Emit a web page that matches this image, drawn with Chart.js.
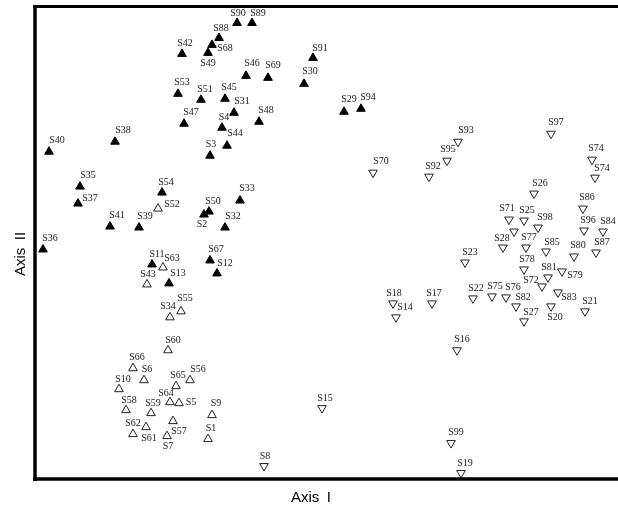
<!DOCTYPE html>
<html>
<head>
<meta charset="utf-8">
<script src="https://cdn.jsdelivr.net/npm/chart.js@4/dist/chart.umd.min.js"></script>
<style>
  html, body { margin:0; padding:0; background:#fff; }
  canvas { display:block; }
</style>
</head>
<body>
<canvas id="ord" width="618" height="508"></canvas>
<script>
// ordination scores (arbitrary units, no ticks shown)
const filledNames = ['S90','S89','S88','S68','S42','S49','S46','S69','S91','S30','S53','S51','S45','S31','S29','S94','S48','S47','S4','S38','S44','S40','S3','S35','S54','S33','S37','S50','S2','S41','S39','S32','S36','S67','S11','S12','S13'];
const filledX = [237,252,219,212,182,208,246,268,313,304,178,201,225,234,344,361,259,184,222,115,227,49,210,80,162,240,78,209,204,110,139,225,43,210,152,217,169];
const filledY = [22,22,37,44,53,52,75,77,57,83,93,99,98,112,111,108,121,123,127,141,145,151,155,186,192,200,203,211,214,226,227,227,249,260,264,273,283];

const openUpNames = ['S52','S63','S43','S55','S34','S60','S66','S6','S56','S65','S10','S64','S5','S58','S59','S9','S57','S61','S62','S7','S1'];
const openUpX = [158,163,147,181,170,168,133,144,190,176,119,170,179,126,151,212,173,146,133,167,208];
const openUpY = [208,267,284,311,317,350,368,380,380,386,389,402,403,410,413,415,421,427,434,436,439];

const openDownNames = ['S97','S93','S95','S74','S70','S92','S74','S26','S86','S71','S25','S98','S96','S84','','S28','S77','S85','S87','S80','S23','S78','S79','S81','S72','S83','S75','S76','S22','S17','S18','S82','S20','S21','S14','S27','S16','S15','S99','S8','S19'];
const openDownX = [551,458,447,592,373,429,595,534,583,509,524,538,584,603,514,503,526,546,596,574,465,524,562,548,542,558,492,506,473,432,393,516,551,585,396,524,457,322,451,264,461];
const openDownY = [133,141,160,159,172,176,177,193,208,219,220,227,230,231,231,247,247,251,252,256,262,269,271,277,286,292,296,297,298,303,303,306,306,311,317,321,350,408,443,466,473];

// label placement (pixel offset of label centre from the marker)
const filledLabelAt = [[1,-10],[6,-10],[2,-10],[13,3],[3,-11],[0,10],[6,-12],[5,-12],[7,-10],[6,-12],[4,-11],[4,-10],[4,-11],[8,-11],[5,-12],[7,-11],[7,-11],[7,-11],[2,-10],[8,-11],[8,-12],[8,-11],[1,-11],[8,-11],[4,-10],[7,-12],[12,-5],[4,-10],[-2,10],[7,-11],[6,-11],[8,-11],[7,-11],[6,-11],[5,-10],[8,-10],[9,-10]];
const openUpLabelAt = [[14,-4],[9,-9],[1,-10],[4,-13],[-2,-11],[5,-10],[4,-11],[3,-11],[8,-11],[2,-11],[4,-10],[-4,-9],[12,-1],[3,-10],[2,-10],[4,-12],[6,10],[3,11],[0,-11],[1,10],[3,-11]];
const openDownLabelAt = [[5,-11],[8,-11],[1,-11],[4,-11],[8,-11],[4,-10],[7,-9],[6,-10],[4,-11],[-2,-11],[3,-10],[7,-10],[4,-10],[5,-10],[0,0],[-1,-9],[3,-10],[6,-9],[6,-10],[4,-11],[5,-10],[3,-10],[13,4],[1,-10],[-11,-6],[11,5],[3,-10],[7,-10],[3,-10],[2,-10],[1,-10],[7,-9],[4,11],[5,-10],[9,-10],[7,-9],[5,-11],[3,-10],[5,-11],[1,-10],[4,-10]];

function toPoints(xs, ys){ return xs.map((x,i)=>({x, y: ys[i]})); }

const pointLabels = {
  id: 'pointLabels',
  afterDatasetsDraw(chart){
    const ctx = chart.ctx;
    ctx.save();
    ctx.font = '10px "Liberation Serif", "Times New Roman", serif';
    ctx.fillStyle = '#1a1a1a';
    ctx.textAlign = 'center';
    ctx.textBaseline = 'middle';
    chart.data.datasets.forEach((ds, di) => {
      const meta = chart.getDatasetMeta(di);
      meta.data.forEach((pt, i) => {
        const name = ds.names[i];
        if(!name) return;
        const off = ds.labelAt[i] || [5,-10];
        ctx.fillText(name, pt.x + off[0], pt.y + off[1]);
      });
    });
    ctx.restore();
  }
};

const frame = {
  id: 'frame',
  afterDraw(chart){
    const ctx = chart.ctx, a = chart.chartArea, W = chart.width;
    ctx.save();
    ctx.strokeStyle = '#000';
    ctx.lineCap = 'butt';
    ctx.lineWidth = 3;
    ctx.beginPath(); ctx.moveTo(a.left - 2, a.top + 0.5); ctx.lineTo(W, a.top + 0.5); ctx.stroke();
    ctx.lineWidth = 3.5;
    ctx.beginPath(); ctx.moveTo(a.left, a.top - 1); ctx.lineTo(a.left, a.bottom + 2); ctx.stroke();
    ctx.beginPath(); ctx.moveTo(a.left - 2, a.bottom); ctx.lineTo(W, a.bottom); ctx.stroke();
    // axis titles
    ctx.fillStyle = '#000';
    ctx.font = '15px "Liberation Sans", Arial, sans-serif';
    ctx.textAlign = 'center';
    ctx.textBaseline = 'alphabetic';
    ctx.fillText('Axis\u2002I', 311, 502);
    ctx.translate(25, 254);
    ctx.rotate(-Math.PI/2);
    ctx.fillText('Axis\u2002II', 0, 0);
    ctx.restore();
  }
};

const baseSet = { pointRadius: 5, pointHoverRadius: 5, borderWidth: 1, showLine: false, clip: false };

new Chart(document.getElementById('ord'), {
  type: 'scatter',
  data: {
    datasets: [
      { ...baseSet, label: 'group 1', names: filledNames, labelAt: filledLabelAt,
        data: toPoints(filledX, filledY), pointStyle: 'triangle',
        backgroundColor: '#000', borderColor: '#000' },
      { ...baseSet, label: 'group 2', names: openUpNames, labelAt: openUpLabelAt,
        data: toPoints(openUpX, openUpY), pointStyle: 'triangle',
        backgroundColor: '#fff', borderColor: '#222' },
      { ...baseSet, label: 'group 3', names: openDownNames, labelAt: openDownLabelAt,
        data: toPoints(openDownX, openDownY), pointStyle: 'triangle', rotation: 180,
        backgroundColor: '#fff', borderColor: '#222' }
    ]
  },
  options: {
    responsive: false,
    animation: false,
    layout: { padding: { left: 35, top: 5, right: 6, bottom: 29 } },
    plugins: { legend: { display: false }, tooltip: { enabled: false } },
    scales: {
      x: { type: 'linear', display: false, min: 35, max: 612 },
      y: { type: 'linear', display: false, reverse: true, min: 5, max: 479 }
    }
  },
  plugins: [pointLabels, frame]
});
</script>
</body>
</html>
